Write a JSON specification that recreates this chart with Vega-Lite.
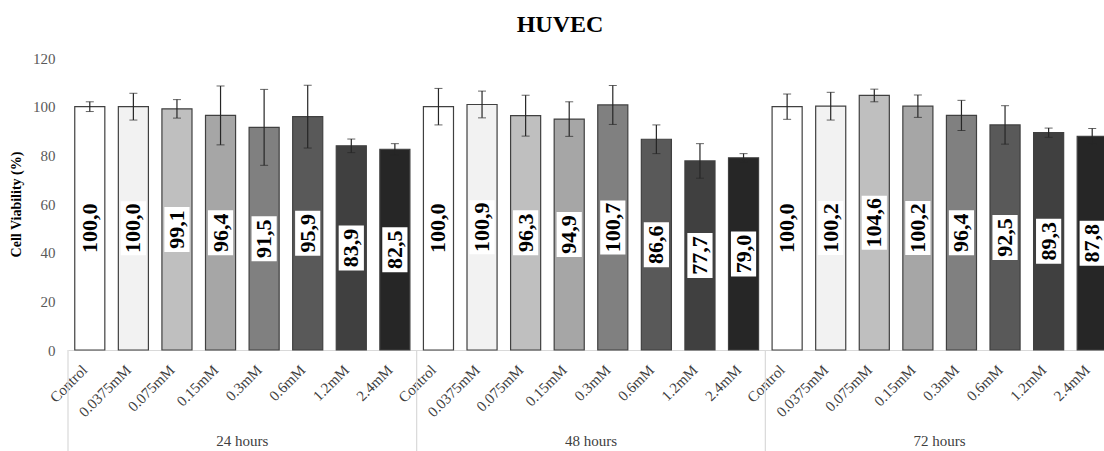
{
  "$schema": "https://vega.github.io/schema/vega-lite/v6.json",
  "autosize": {"type": "none"},
  "width": 1036,
  "height": 292,
  "padding": {"left": 68, "top": 58, "right": 0, "bottom": 101},
  "title": {"text": "HUVEC", "font": "Liberation Serif", "fontSize": 24, "fontWeight": "bold", "color": "#000000", "anchor": "middle", "offset": 14, "dx": -26},
  "config": {
    "view": {"stroke": null},
    "locale": {"number": {"decimal": ",", "thousands": ".", "grouping": [3], "currency": ["", ""]}}
  },
  "datasets": {
    "cells": [
      {"id": "24 hours|Control", "time": "24 hours", "conc": "Control", "v": 100.0, "sd": 2.0},
      {"id": "24 hours|0.0375mM", "time": "24 hours", "conc": "0.0375mM", "v": 100.0, "sd": 5.5},
      {"id": "24 hours|0.075mM", "time": "24 hours", "conc": "0.075mM", "v": 99.1, "sd": 3.8},
      {"id": "24 hours|0.15mM", "time": "24 hours", "conc": "0.15mM", "v": 96.4, "sd": 12.1},
      {"id": "24 hours|0.3mM", "time": "24 hours", "conc": "0.3mM", "v": 91.5, "sd": 15.6},
      {"id": "24 hours|0.6mM", "time": "24 hours", "conc": "0.6mM", "v": 95.9, "sd": 12.9},
      {"id": "24 hours|1.2mM", "time": "24 hours", "conc": "1.2mM", "v": 83.9, "sd": 2.8},
      {"id": "24 hours|2.4mM", "time": "24 hours", "conc": "2.4mM", "v": 82.5, "sd": 2.3},
      {"id": "48 hours|Control", "time": "48 hours", "conc": "Control", "v": 100.0, "sd": 7.5},
      {"id": "48 hours|0.0375mM", "time": "48 hours", "conc": "0.0375mM", "v": 100.9, "sd": 5.5},
      {"id": "48 hours|0.075mM", "time": "48 hours", "conc": "0.075mM", "v": 96.3, "sd": 8.4},
      {"id": "48 hours|0.15mM", "time": "48 hours", "conc": "0.15mM", "v": 94.9, "sd": 7.1},
      {"id": "48 hours|0.3mM", "time": "48 hours", "conc": "0.3mM", "v": 100.7, "sd": 8.0},
      {"id": "48 hours|0.6mM", "time": "48 hours", "conc": "0.6mM", "v": 86.6, "sd": 5.9},
      {"id": "48 hours|1.2mM", "time": "48 hours", "conc": "1.2mM", "v": 77.7, "sd": 7.1},
      {"id": "48 hours|2.4mM", "time": "48 hours", "conc": "2.4mM", "v": 79.0, "sd": 1.7},
      {"id": "72 hours|Control", "time": "72 hours", "conc": "Control", "v": 100.0, "sd": 5.2},
      {"id": "72 hours|0.0375mM", "time": "72 hours", "conc": "0.0375mM", "v": 100.2, "sd": 5.7},
      {"id": "72 hours|0.075mM", "time": "72 hours", "conc": "0.075mM", "v": 104.6, "sd": 2.6},
      {"id": "72 hours|0.15mM", "time": "72 hours", "conc": "0.15mM", "v": 100.2, "sd": 4.6},
      {"id": "72 hours|0.3mM", "time": "72 hours", "conc": "0.3mM", "v": 96.4, "sd": 6.2},
      {"id": "72 hours|0.6mM", "time": "72 hours", "conc": "0.6mM", "v": 92.5, "sd": 7.9},
      {"id": "72 hours|1.2mM", "time": "72 hours", "conc": "1.2mM", "v": 89.3, "sd": 1.9},
      {"id": "72 hours|2.4mM", "time": "72 hours", "conc": "2.4mM", "v": 87.8, "sd": 3.2}
    ],
    "groups": [
      {"time": "24 hours"},
      {"time": "48 hours"},
      {"time": "72 hours"}
    ]
  },
  "layer": [
    {
      "data": {"name": "cells"},
      "mark": {"type": "bar", "stroke": "#404040", "strokeWidth": 1.2},
      "encoding": {
        "x": {
          "field": "id", "type": "nominal", "sort": null,
          "scale": {"range": [0, 1046], "paddingInner": 0.31, "paddingOuter": 0.155},
          "axis": {
            "title": null,
            "labelExpr": "split(datum.value, '|')[1]",
            "labelAngle": -45,
            "labelAlign": "right",
            "labelBaseline": "middle",
            "labelFont": "Liberation Serif",
            "labelFontSize": 15,
            "labelColor": "#404040",
            "labelPadding": 17,
            "labelOffset": -5,
            "labelOverlap": false,
            "labelBound": false,
            "labelFlush": false,
            "ticks": false,
            "domainColor": "#d9d9d9",
            "domainWidth": 1.2,
            "grid": false
          }
        },
        "y": {
          "field": "v", "type": "quantitative",
          "scale": {"domain": [0, 120], "nice": false},
          "axis": {
            "title": "Cell Viability (%)",
            "titleFont": "Liberation Serif",
            "titleFontSize": 14,
            "titleFontWeight": "bold",
            "titleColor": "#000000",
            "titlePadding": 9,
            "labelFont": "Liberation Serif",
            "labelFontSize": 15,
            "labelColor": "#595959",
            "labelPadding": 13,
            "values": [0, 20, 40, 60, 80, 100, 120],
            "domain": false,
            "ticks": false,
            "grid": false
          }
        },
        "color": {
          "field": "conc", "type": "nominal", "sort": null,
          "scale": {
            "domain": ["Control", "0.0375mM", "0.075mM", "0.15mM", "0.3mM", "0.6mM", "1.2mM", "2.4mM"],
            "range": ["#ffffff", "#f2f2f2", "#bfbfbf", "#a6a6a6", "#808080", "#595959", "#404040", "#262626"]
          },
          "legend": null
        }
      }
    },
    {
      "data": {"name": "cells"},
      "mark": {
        "type": "errorbar",
        "ticks": {"size": 8, "color": "#262626", "strokeWidth": 1.2},
        "rule": {"color": "#262626", "strokeWidth": 1.2}
      },
      "encoding": {
        "x": {
          "field": "id", "type": "nominal", "sort": null,
          "scale": {"range": [0, 1046], "paddingInner": 0.31, "paddingOuter": 0.155},
          "axis": null
        },
        "y": {"field": "v", "type": "quantitative", "scale": {"domain": [0, 120], "nice": false}, "axis": null},
        "yError": {"field": "sd"}
      }
    },
    {
      "data": {"name": "cells"},
      "mark": {"type": "point", "filled": true, "fill": "#ffffff", "opacity": 1, "size": 3600, "strokeWidth": 0},
      "encoding": {
        "x": {
          "field": "id", "type": "nominal", "sort": null,
          "scale": {"range": [0, 1046], "paddingInner": 0.31, "paddingOuter": 0.155},
          "axis": null
        },
        "y": {"field": "v", "type": "quantitative", "scale": {"domain": [0, 240], "nice": false}, "axis": null},
        "shape": {
          "condition": {"test": "datum.v >= 100", "value": "M-0.42,-0.9L0.42,-0.9L0.42,0.9L-0.42,0.9Z"},
          "value": "M-0.42,-0.75L0.42,-0.75L0.42,0.75L-0.42,0.75Z"
        }
      }
    },
    {
      "data": {"name": "cells"},
      "mark": {"type": "text", "angle": 270, "align": "center", "baseline": "middle", "font": "Liberation Serif", "fontSize": 22, "fontWeight": "bold", "color": "#000000"},
      "encoding": {
        "x": {
          "field": "id", "type": "nominal", "sort": null,
          "scale": {"range": [0, 1046], "paddingInner": 0.31, "paddingOuter": 0.155},
          "axis": null
        },
        "y": {"field": "v", "type": "quantitative", "scale": {"domain": [0, 240], "nice": false}, "axis": null},
        "text": {"field": "v", "type": "quantitative", "format": ".1f"}
      }
    },
    {
      "data": {"name": "groups"},
      "mark": {"type": "rule", "color": "#d9d9d9", "strokeWidth": 1.2},
      "encoding": {
        "x": {
          "field": "time", "type": "nominal", "sort": null, "bandPosition": 0,
          "scale": {"range": [0, 1046], "paddingInner": 0, "paddingOuter": 0},
          "axis": null
        },
        "y": {"datum": 0, "type": "quantitative", "scale": {"domain": [0, 120], "nice": false}, "axis": null},
        "y2": {"datum": -42}
      }
    },
    {
      "data": {"name": "groups"},
      "mark": {"type": "text", "align": "center", "baseline": "middle", "font": "Liberation Serif", "fontSize": 15, "color": "#404040"},
      "encoding": {
        "x": {
          "field": "time", "type": "nominal", "sort": null, "bandPosition": 0.5,
          "scale": {"range": [0, 1046], "paddingInner": 0, "paddingOuter": 0},
          "axis": null
        },
        "y": {"datum": -37.4, "type": "quantitative", "scale": {"domain": [0, 120], "nice": false}, "axis": null},
        "text": {"field": "time"}
      }
    }
  ],
  "resolve": {"scale": {"x": "independent", "y": "independent", "color": "independent", "shape": "independent"}}
}
